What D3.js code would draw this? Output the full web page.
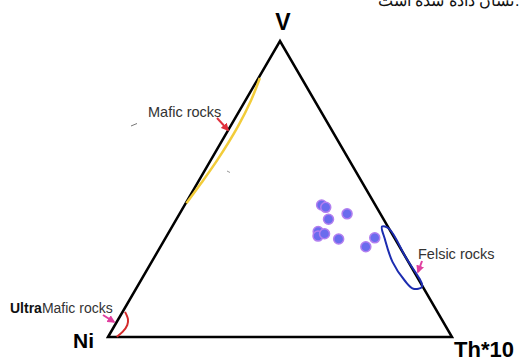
<!DOCTYPE html>
<html>
<head>
<meta charset="utf-8">
<script src="https://cdn.jsdelivr.net/npm/d3@7"></script>
<style>
  body { margin: 0; background: #fff; }
  svg { display: block; }
  text { font-family: "Liberation Sans", Arial, sans-serif; }
</style>
</head>
<body>
<div id="chart"></div>
<script>
// corners of the diagram
var corners = ["Ni", "V", "Th*10"];

// samples, as fractions of V and Th*10 (Ni is the rest)
var sampleV  = [0.446, 0.438, 0.398, 0.416, 0.356, 0.341, 0.349, 0.331, 0.335, 0.305];
var sampleTh = [0.398, 0.414, 0.442, 0.487, 0.433, 0.440, 0.455, 0.505, 0.608, 0.597];

// rock fields
var maficV  = [0.875, 0.80, 0.71, 0.60, 0.52, 0.452];
var maficTh = [0.004, 0.016, 0.022, 0.019, 0.011, 0.002];

var felsicV  = [0.373, 0.366, 0.27, 0.17, 0.163, 0.19, 0.254, 0.33];
var felsicTh = [0.610, 0.634, 0.73, 0.828, 0.806, 0.768, 0.700, 0.640];

var ultraV  = [0.085, 0.060, 0.040, 0.018, 0.001];
var ultraTh = [0.007, 0.028, 0.036, 0.034, 0.025];

var width = 520, height = 358;

var svg = d3.select("#chart").append("svg")
  .attr("width", width)
  .attr("height", height);

// ternary -> screen
var x = d3.scaleLinear().domain([0, 1]).range([108, 452]);
var y = d3.scaleLinear().domain([0, 1]).range([337, 41]);
function px(v, th) { return x(th + v / 2); }
function py(v) { return y(v); }

var defs = svg.append("defs");
function arrowHead(id, color) {
  defs.append("marker")
    .attr("id", id)
    .attr("viewBox", "0 0 10 10")
    .attr("refX", 8).attr("refY", 5)
    .attr("markerWidth", 4).attr("markerHeight", 4)
    .attr("orient", "auto")
    .append("path")
    .attr("d", "M0,0 L10,5 L0,10 Z")
    .attr("fill", color);
}
arrowHead("redhead", "#e0303c");
arrowHead("pinkhead", "#e040a0");

// cut-off caption at the top (period kept on the right as in the scan)
svg.append("text")
  .attr("x", 514).attr("y", 6)
  .attr("text-anchor", "end")
  .attr("font-size", 16)
  .attr("font-family", "DejaVu Sans")
  .attr("fill", "#111")
  .text("نشان داده شده است");
svg.append("text")
  .attr("x", 515).attr("y", 6)
  .attr("font-size", 16)
  .attr("font-family", "DejaVu Sans")
  .attr("fill", "#111")
  .text(".");

// triangle
var tri = [[0, 0], [1, 0], [0, 1]]; // [v, th] for Ni, V, Th
svg.append("path")
  .attr("d", d3.line()(tri.map(d => [px(d[0], d[1]), py(d[0])])) + "Z")
  .attr("fill", "none")
  .attr("stroke", "#000")
  .attr("stroke-width", 2.5)
  .attr("stroke-linejoin", "miter");

// corner labels
svg.append("text").attr("x", x(0.5) + 3).attr("y", 30)
  .attr("text-anchor", "middle").attr("font-size", 23).attr("font-weight", "bold")
  .text(corners[1]);
svg.append("text").attr("x", 73).attr("y", 348)
  .attr("font-size", 21).attr("font-weight", "bold")
  .text(corners[0]);
svg.append("text").attr("x", 454).attr("y", 357)
  .attr("font-size", 22).attr("font-weight", "bold")
  .text(corners[2]);

var curve = d3.line().curve(d3.curveCatmullRom);

// mafic field
svg.append("path")
  .attr("d", curve(maficV.map((v, i) => [px(v, maficTh[i]), py(v)])))
  .attr("fill", "none")
  .attr("stroke", "#f2cc3a")
  .attr("stroke-width", 2.5);

// felsic field
svg.append("path")
  .attr("d", d3.line().curve(d3.curveCatmullRomClosed)(felsicV.map((v, i) => [px(v, felsicTh[i]), py(v)])))
  .attr("fill", "none")
  .attr("stroke", "#1c2cb0")
  .attr("stroke-width", 2);

// ultramafic field
svg.append("path")
  .attr("d", curve(ultraV.map((v, i) => [px(v, ultraTh[i]), py(v)])))
  .attr("fill", "none")
  .attr("stroke", "#d42a2a")
  .attr("stroke-width", 2);

// samples
svg.selectAll("circle.sample")
  .data(sampleV.map((v, i) => ({ v: v, th: sampleTh[i] })))
  .enter().append("circle")
  .attr("class", "sample")
  .attr("cx", d => px(d.v, d.th))
  .attr("cy", d => py(d.v))
  .attr("r", 5)
  .attr("fill", "#6a6ced")
  .attr("stroke", "#b27ff0")
  .attr("stroke-width", 1.5);

// labels and arrows
svg.append("text").attr("x", 148).attr("y", 117)
  .attr("font-size", 14.5).attr("fill", "#333")
  .text("Mafic rocks");
svg.append("line")
  .attr("x1", 217).attr("y1", 118).attr("x2", 228).attr("y2", 130)
  .attr("stroke", "#e0303c").attr("stroke-width", 2)
  .attr("marker-end", "url(#redhead)");

svg.append("text").attr("x", 418).attr("y", 259)
  .attr("font-size", 14.5).attr("fill", "#333")
  .text("Felsic rocks");
svg.append("line")
  .attr("x1", 422).attr("y1", 261).attr("x2", 418).attr("y2", 272)
  .attr("stroke", "#e040a0").attr("stroke-width", 2)
  .attr("marker-end", "url(#pinkhead)");

var ut = svg.append("text").attr("x", 10).attr("y", 313);
ut.append("tspan").attr("font-size", 14).attr("font-weight", "bold").attr("fill", "#111").text("Ultra");
ut.append("tspan").attr("font-size", 14).attr("fill", "#333").text("Mafic rocks");
svg.append("line")
  .attr("x1", 103).attr("y1", 315).attr("x2", 114).attr("y2", 322)
  .attr("stroke", "#e040a0").attr("stroke-width", 2)
  .attr("marker-end", "url(#pinkhead)");

// stray marks in the scan
svg.append("line").attr("x1", 131).attr("y1", 126).attr("x2", 137).attr("y2", 123.5)
  .attr("stroke", "#777").attr("stroke-width", 1);
svg.append("line").attr("x1", 227).attr("y1", 171).attr("x2", 230).attr("y2", 172.5)
  .attr("stroke", "#999").attr("stroke-width", 1);
</script>
</body>
</html>
